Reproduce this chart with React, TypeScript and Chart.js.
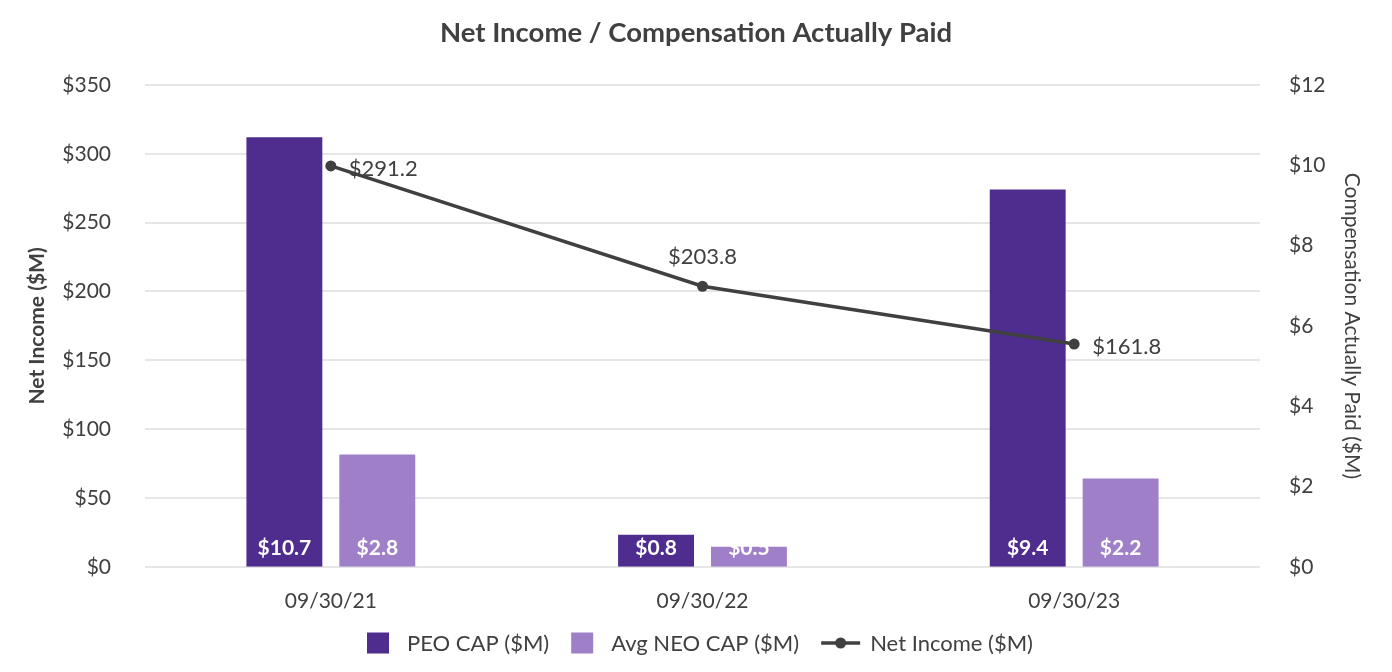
import React, { useEffect, useRef } from "react";
import { Chart, registerables } from "chart.js";

Chart.register(...registerables);

const categories = ["09/30/21", "09/30/22", "09/30/23"];
const peoCap = [10.7, 0.8, 9.4];
const neoCap = [2.8, 0.5, 2.2];
const netIncome = [291.2, 203.8, 161.8];
const netIncomeLabelSide = ["right", "above", "right"];
const leftTicks = { min: 0, max: 350, step: 50 };
const rightTicks = { min: 0, max: 12, step: 2 };

const FONT = "Lato, 'Noto Sans', sans-serif";
const TEXT = "#404040";
const PEO_COLOR = "#4F2D8F";
const NEO_COLOR = "#9F80C8";
const LINE_COLOR = "#404040";

const fmt = (v: number) => "$" + v.toFixed(1);

const labelPlugin = {
  id: "valueLabels",
  afterDatasetsDraw(chart: any) {
    const ctx = chart.ctx;
    ctx.save();
    ctx.textBaseline = "middle";
    [0, 1].forEach((di) => {
      const meta = chart.getDatasetMeta(di);
      meta.data.forEach((el: any, i: number) => {
        const v = chart.data.datasets[di].data[i] as number;
        ctx.fillStyle = "#ffffff";
        ctx.font = `bold 21px ${FONT}`;
        ctx.textAlign = "center";
        ctx.fillText(fmt(v), el.x, el.base - 19);
      });
    });
    const lmeta = chart.getDatasetMeta(2);
    lmeta.data.forEach((el: any, i: number) => {
      const v = chart.data.datasets[2].data[i] as number;
      ctx.fillStyle = TEXT;
      ctx.font = `22px ${FONT}`;
      if (netIncomeLabelSide[i] === "above") {
        ctx.textAlign = "center";
        ctx.fillText(fmt(v), el.x, el.y - 29);
      } else {
        ctx.textAlign = "left";
        ctx.fillText(fmt(v), el.x + 18, el.y + 3);
      }
    });
    ctx.restore();
  },
};

const legendPlugin = {
  id: "customLegend",
  afterDraw(chart: any) {
    const ctx = chart.ctx;
    ctx.save();
    ctx.font = `22px ${FONT}`;
    ctx.textBaseline = "middle";
    ctx.textAlign = "left";
    const ds = chart.data.datasets;
    const items = ds.map((d: any) => {
      const isLine = d.type === "line";
      const markerW = isLine ? 39 : 22;
      const gap = isLine ? 10 : 18;
      const tw = ctx.measureText(d.label).width;
      return { d, isLine, markerW, gap, tw, w: markerW + gap + tw };
    });
    const spacing = 22;
    const total = items.reduce((s: number, it: any) => s + it.w, 0) + spacing * (items.length - 1);
    let x = chart.width / 2 + 4 - total / 2;
    const y = 643;
    items.forEach((it: any) => {
      if (it.isLine) {
        ctx.strokeStyle = it.d.borderColor;
        ctx.lineWidth = 3.5;
        ctx.beginPath();
        ctx.moveTo(x, y);
        ctx.lineTo(x + it.markerW, y);
        ctx.stroke();
        ctx.fillStyle = it.d.borderColor;
        ctx.beginPath();
        ctx.arc(x + it.markerW / 2, y, 5.5, 0, Math.PI * 2);
        ctx.fill();
      } else {
        ctx.fillStyle = it.d.backgroundColor;
        ctx.fillRect(x, y - 10.5, 22, 21);
      }
      ctx.fillStyle = TEXT;
      ctx.fillText(it.d.label, x + it.markerW + it.gap, y + 1);
      x += it.w + spacing;
    });
    ctx.restore();
  },
};

export default function App() {
  const ref = useRef<HTMLCanvasElement>(null);
  useEffect(() => {
    if (!ref.current) return;
    const chart = new Chart(ref.current, {
      type: "bar",
      data: {
        labels: categories,
        datasets: [
          {
            type: "bar",
            label: "PEO CAP ($M)",
            data: peoCap,
            backgroundColor: PEO_COLOR,
            yAxisID: "y1",
            order: 2,
            categoryPercentage: 0.5,
            barPercentage: 0.817,
          },
          {
            type: "bar",
            label: "Avg NEO CAP ($M)",
            data: neoCap,
            backgroundColor: NEO_COLOR,
            yAxisID: "y1",
            order: 3,
            categoryPercentage: 0.5,
            barPercentage: 0.817,
          },
          {
            type: "line",
            label: "Net Income ($M)",
            data: netIncome,
            borderColor: LINE_COLOR,
            backgroundColor: LINE_COLOR,
            borderWidth: 3.5,
            pointRadius: 5.5,
            pointBackgroundColor: LINE_COLOR,
            pointBorderWidth: 0,
            tension: 0,
            yAxisID: "y",
            order: 0,
          } as any,
        ],
      },
      options: {
        responsive: false,
        animation: false,
        layout: { padding: { left: 10, right: 10, top: 0, bottom: 36 } },
        plugins: {
          legend: { display: false },
          tooltip: { enabled: false },
          title: {
            display: true,
            text: "Net Income / Compensation Actually Paid",
            color: TEXT,
            font: { family: FONT, size: 27.5, weight: "bold" },
            padding: { top: 17, bottom: 35 },
          },
        },
        scales: {
          x: {
            grid: { display: false, drawTicks: false },
            border: { display: false },
            ticks: { color: TEXT, font: { family: FONT, size: 21 }, padding: 22 },
          },
          y: {
            position: "left",
            min: leftTicks.min,
            max: leftTicks.max,
            grid: { color: "#e6e6e6", lineWidth: 2, drawTicks: false },
            border: { display: false },
            ticks: {
              stepSize: leftTicks.step,
              color: TEXT,
              font: { family: FONT, size: 21 },
              padding: 34,
              callback: (v: any) => "$" + v,
            },
            title: {
              display: true,
              text: "Net Income ($M)",
              color: TEXT,
              font: { family: FONT, size: 21, weight: "bold" },
              padding: { top: 14.4, bottom: 0 },
            },
            afterFit: (s: any) => {
              s.width = 135;
            },
          },
          y1: {
            position: "right",
            min: rightTicks.min,
            max: rightTicks.max,
            grid: { display: false, drawTicks: false },
            border: { display: false },
            ticks: {
              stepSize: rightTicks.step,
              color: TEXT,
              font: { family: FONT, size: 21 },
              padding: 29,
              callback: (v: any) => "$" + v,
            },
            title: {
              display: true,
              text: "Compensation Actually Paid ($M)",
              color: TEXT,
              font: { family: FONT, size: 21 },
              padding: { top: 17.4, bottom: 0 },
            },
            afterFit: (s: any) => {
              s.width = 122;
            },
          },
        },
      },
      plugins: [labelPlugin, legendPlugin],
    });
    return () => chart.destroy();
  }, []);
  return (
    <div style={{ position: "absolute", left: 0, top: 0, width: 1392, height: 672, background: "#fff" }}>
      <canvas ref={ref} width={1392} height={672} style={{ display: "block" }} />
    </div>
  );
}
